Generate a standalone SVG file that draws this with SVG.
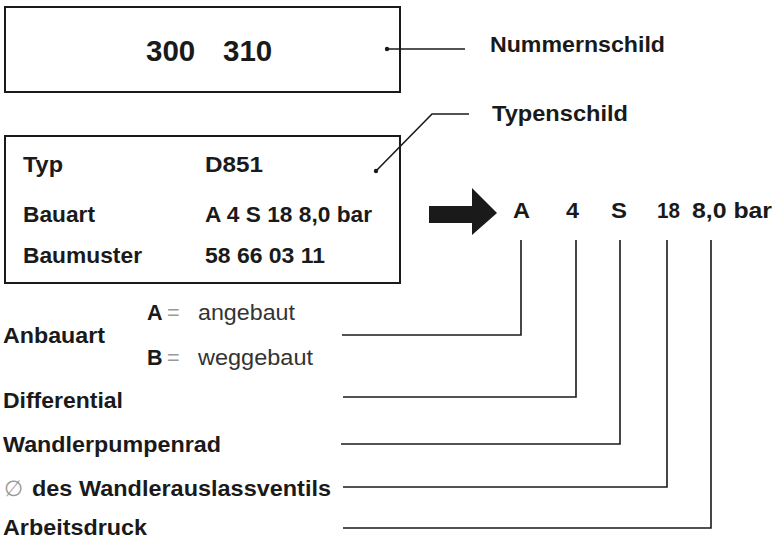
<svg xmlns="http://www.w3.org/2000/svg" width="776" height="539" viewBox="0 0 776 539">
<style>
.box{fill:none;stroke:#1a1a1a;stroke-width:2}
.ln{fill:none;stroke:#1a1a1a;stroke-width:1.6}
.t{font-family:"Liberation Sans",Arial,sans-serif;font-weight:bold;font-size:21.5px;fill:#1a1a1a}
.r{font-family:"Liberation Sans",Arial,sans-serif;font-size:21.5px;fill:#333}
.g{font-family:"Liberation Sans",Arial,sans-serif;font-size:21.5px;fill:#999}
.dot{fill:#1a1a1a}
</style>
<rect width="776" height="539" fill="#fff"/>
<g id="nummernschild">
<rect class="box" x="5" y="7" width="395" height="85"/>
<text class="t" x="146" y="61" style="font-size:29.5px">300 <tspan x="223">310</tspan></text>
<circle class="dot" cx="387" cy="49" r="2.2"/>
</g>
<g id="label-nummernschild"><text class="t" x="490" y="52" textLength="175" lengthAdjust="spacingAndGlyphs">Nummernschild</text></g>
<g id="typenschild">
<rect class="box" x="5" y="136" width="395" height="147"/>
<text class="t" x="23" y="172" textLength="40" lengthAdjust="spacingAndGlyphs">Typ</text>
<text class="t" x="205" y="172" textLength="58" lengthAdjust="spacingAndGlyphs">D851</text>
<text class="t" x="23" y="222" textLength="72" lengthAdjust="spacingAndGlyphs">Bauart</text>
<text class="t" x="205" y="222" textLength="167" lengthAdjust="spacingAndGlyphs">A 4 S 18 8,0 bar</text>
<text class="t" x="23" y="263" textLength="119" lengthAdjust="spacingAndGlyphs">Baumuster</text>
<text class="t" x="205" y="263" textLength="120" lengthAdjust="spacingAndGlyphs">58 66 03 11</text>
<circle class="dot" cx="376" cy="171" r="2.2"/>
</g>
<g id="label-typenschild"><text class="t" x="492" y="121" textLength="136" lengthAdjust="spacingAndGlyphs">Typenschild</text></g>
<g id="arrow"><polygon fill="#1a1a1a" points="429,206 472,206 472,188 497,213 472,235 472,223 429,223"/></g>
<g id="code">
<text class="t" x="513" y="218" textLength="17" lengthAdjust="spacingAndGlyphs">A</text>
<text class="t" x="566" y="218" textLength="13" lengthAdjust="spacingAndGlyphs">4</text>
<text class="t" x="611" y="218" textLength="16" lengthAdjust="spacingAndGlyphs">S</text>
<text class="t" x="657" y="218" textLength="23" lengthAdjust="spacingAndGlyphs">18</text>
<text class="t" x="692" y="218" textLength="80" lengthAdjust="spacingAndGlyphs">8,0 bar</text>
</g>
<g id="anbauart">
<text class="t" x="3" y="343" textLength="102" lengthAdjust="spacingAndGlyphs">Anbauart</text>
<text class="t" x="147" y="320">A</text><text class="g" x="167" y="320">=</text>
<text class="r" x="198" y="320" textLength="97" lengthAdjust="spacingAndGlyphs">angebaut</text>
<text class="t" x="147" y="365">B</text><text class="g" x="167" y="365">=</text>
<text class="r" x="198" y="365" textLength="115" lengthAdjust="spacingAndGlyphs">weggebaut</text>
</g>
<g id="differential"><text class="t" x="3" y="408" textLength="120" lengthAdjust="spacingAndGlyphs">Differential</text></g>
<g id="wandlerpumpenrad"><text class="t" x="3" y="452" textLength="218" lengthAdjust="spacingAndGlyphs">Wandlerpumpenrad</text></g>
<g id="auslassventil"><text class="g" x="4" y="496">∅</text><text class="t" x="32" y="496" textLength="299" lengthAdjust="spacingAndGlyphs">des Wandlerauslassventils</text></g>
<g id="arbeitsdruck"><text class="t" x="3" y="535" textLength="144" lengthAdjust="spacingAndGlyphs">Arbeitsdruck</text></g>
<g id="connectors">
<polyline class="ln" points="387,49 465,49"/>
<polyline class="ln" points="376,171 432,114 469,114"/>
<polyline class="ln" points="521,240 521,335 342,335"/>
<polyline class="ln" points="576,240 576,397 343,397"/>
<polyline class="ln" points="620,240 620,444 341,444"/>
<polyline class="ln" points="667,240 667,487 343,487"/>
<polyline class="ln" points="711,240 711,528 343,528"/>
</g>
</svg>
